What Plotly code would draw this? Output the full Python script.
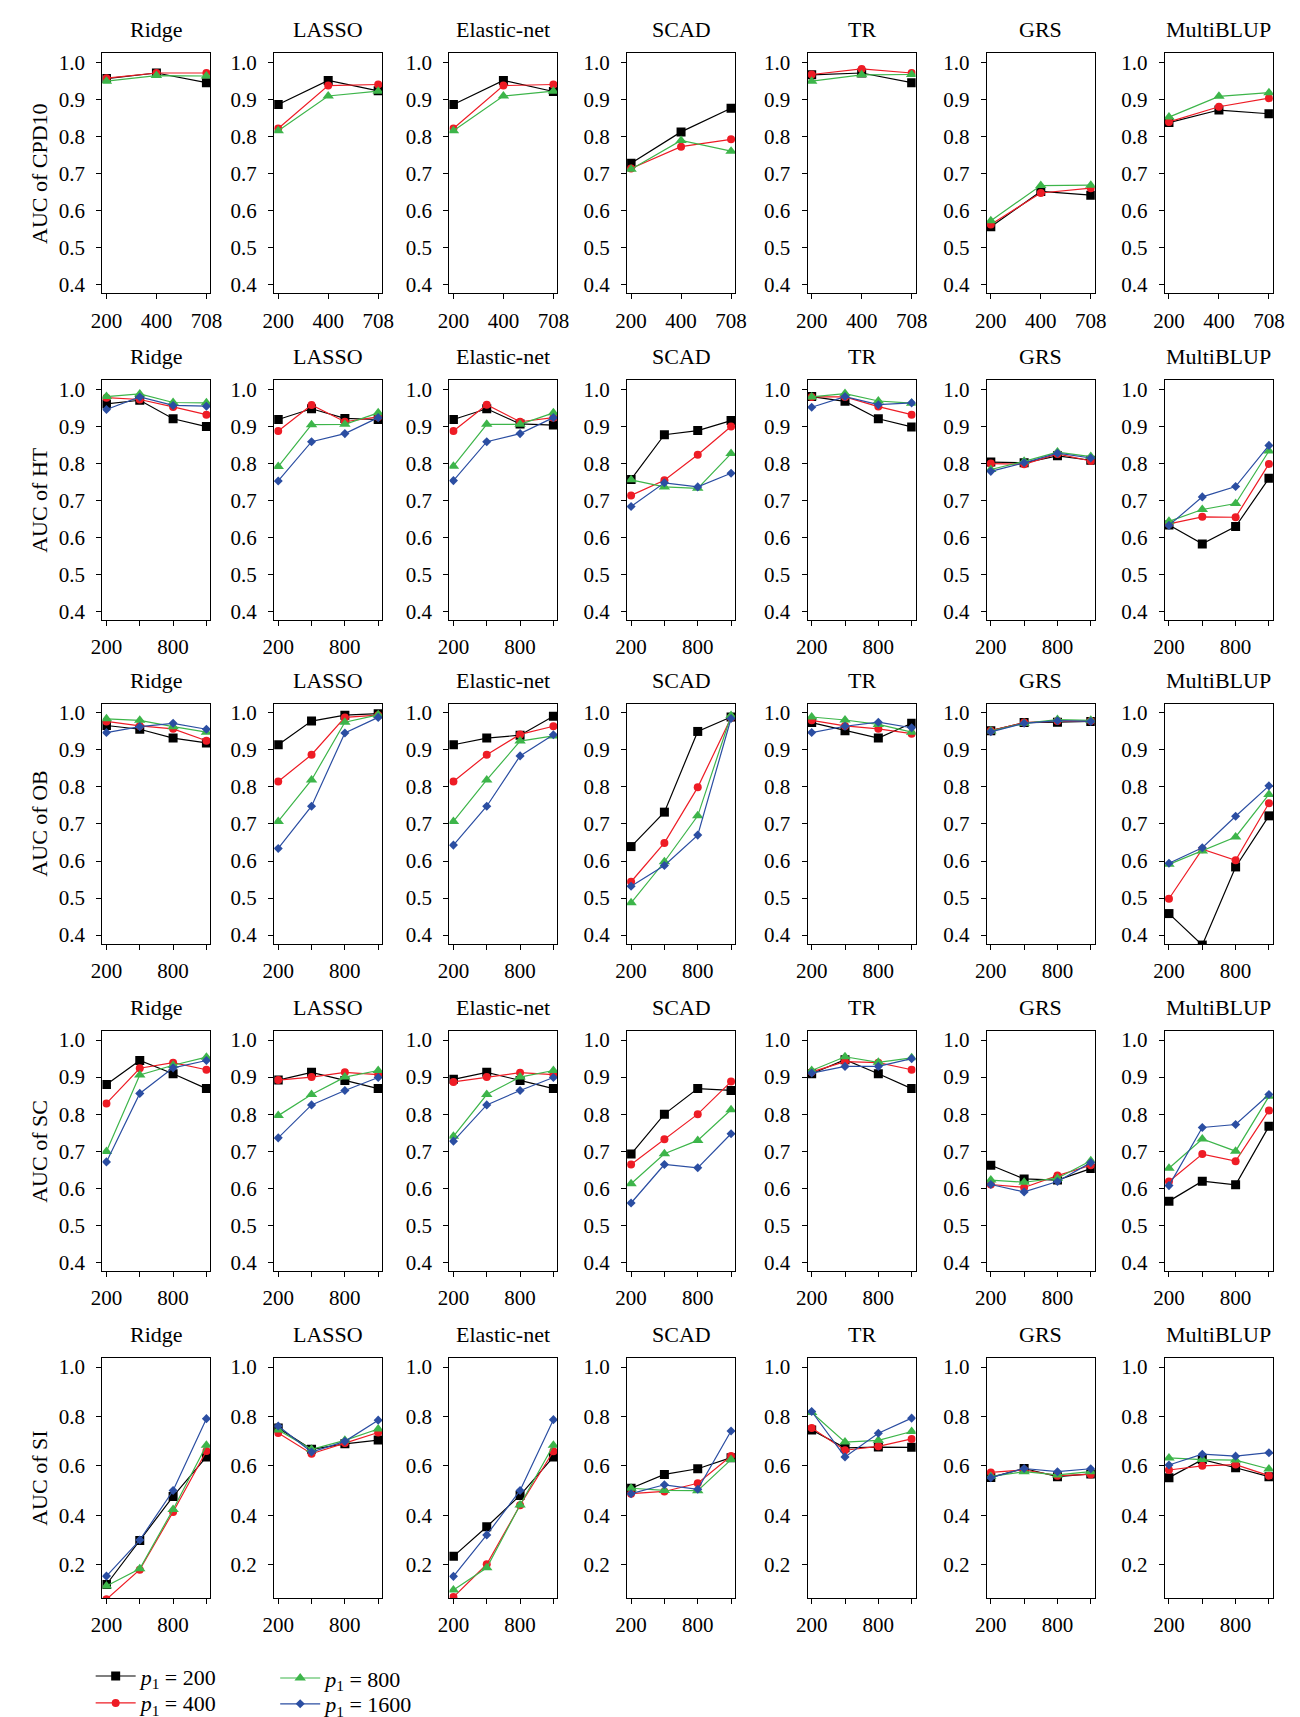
import plotly.graph_objects as go

# ---------------- data ----------------
methods = ["Ridge", "LASSO", "Elastic-net", "SCAD", "TR", "GRS", "MultiBLUP"]
traits = ["CPD10", "HT", "OB", "SC", "SI"]
x_ticks_row1 = ["200", "400", "708"]
x_ticks_rest = ["200", "", "800", ""]
series_labels = ["<i>p</i><sub>1</sub> = 200", "<i>p</i><sub>1</sub> = 400",
                 "<i>p</i><sub>1</sub> = 800", "<i>p</i><sub>1</sub> = 1600"]

# Each list: one list of AUC values per method (Ridge ... MultiBLUP)
CPD10_p200 = [[0.956, 0.971, 0.945], [0.886, 0.951, 0.923], [0.886, 0.951, 0.921],
              [0.727, 0.812, 0.876], [0.966, 0.971, 0.945], [0.556, 0.651, 0.641],
              [0.837, 0.871, 0.861]]
CPD10_p400 = [[0.957, 0.971, 0.971], [0.821, 0.937, 0.940], [0.821, 0.937, 0.940],
              [0.713, 0.772, 0.792], [0.967, 0.982, 0.971], [0.562, 0.647, 0.660],
              [0.839, 0.880, 0.903]]
CPD10_p800 = [[0.949, 0.964, 0.963], [0.815, 0.909, 0.922], [0.815, 0.909, 0.922],
              [0.711, 0.789, 0.760], [0.949, 0.966, 0.967], [0.572, 0.667, 0.668],
              [0.852, 0.908, 0.918]]

HT_p200 = [[0.960, 0.970, 0.920, 0.899], [0.918, 0.947, 0.921, 0.918], [0.918, 0.947, 0.906, 0.903],
           [0.756, 0.877, 0.888, 0.915], [0.980, 0.967, 0.920, 0.898], [0.803, 0.801, 0.820, 0.808],
           [0.633, 0.582, 0.629, 0.759]]
HT_p400 = [[0.977, 0.972, 0.952, 0.931], [0.887, 0.957, 0.912, 0.925], [0.887, 0.958, 0.912, 0.923],
           [0.713, 0.754, 0.823, 0.899], [0.979, 0.979, 0.953, 0.931], [0.799, 0.797, 0.825, 0.806],
           [0.636, 0.655, 0.654, 0.798]]
HT_p800 = [[0.980, 0.987, 0.964, 0.963], [0.791, 0.904, 0.905, 0.936], [0.792, 0.905, 0.905, 0.936],
           [0.755, 0.736, 0.732, 0.826], [0.979, 0.988, 0.968, 0.962], [0.783, 0.805, 0.830, 0.818],
           [0.643, 0.675, 0.691, 0.833]]
HT_p1600 = [[0.945, 0.979, 0.956, 0.954], [0.752, 0.858, 0.880, 0.923], [0.753, 0.858, 0.880, 0.923],
            [0.683, 0.747, 0.736, 0.773], [0.951, 0.980, 0.958, 0.963], [0.778, 0.801, 0.827, 0.814],
            [0.632, 0.709, 0.737, 0.848]]

OB_p200 = [[0.966, 0.956, 0.932, 0.919], [0.914, 0.978, 0.994, 0.998], [0.914, 0.932, 0.940, 0.991],
           [0.639, 0.732, 0.950, 0.989], [0.974, 0.952, 0.932, 0.972], [0.952, 0.974, 0.975, 0.977],
           [0.458, 0.373, 0.584, 0.722]]
OB_p400 = [[0.977, 0.965, 0.957, 0.925], [0.815, 0.887, 0.988, 0.994], [0.815, 0.887, 0.942, 0.964],
           [0.544, 0.649, 0.799, 0.987], [0.980, 0.965, 0.957, 0.944], [0.952, 0.974, 0.978, 0.978],
           [0.498, 0.632, 0.602, 0.756]]
OB_p800 = [[0.984, 0.980, 0.963, 0.948], [0.707, 0.819, 0.975, 0.995], [0.707, 0.819, 0.924, 0.938],
           [0.487, 0.598, 0.722, 0.993], [0.989, 0.981, 0.969, 0.948], [0.951, 0.972, 0.982, 0.980],
           [0.591, 0.627, 0.665, 0.780]]
OB_p1600 = [[0.947, 0.963, 0.972, 0.956], [0.634, 0.748, 0.946, 0.988], [0.643, 0.748, 0.884, 0.941],
            [0.532, 0.588, 0.670, 0.985], [0.947, 0.964, 0.975, 0.960], [0.949, 0.972, 0.979, 0.977],
            [0.594, 0.636, 0.721, 0.803]]

SC_p200 = [[0.880, 0.945, 0.909, 0.869], [0.892, 0.913, 0.891, 0.869], [0.894, 0.913, 0.891, 0.869],
           [0.692, 0.800, 0.869, 0.864], [0.909, 0.947, 0.909, 0.869], [0.662, 0.625, 0.622, 0.653],
           [0.565, 0.619, 0.609, 0.767]]
SC_p400 = [[0.829, 0.924, 0.939, 0.920], [0.892, 0.900, 0.913, 0.907], [0.887, 0.900, 0.912, 0.907],
           [0.664, 0.732, 0.800, 0.888], [0.914, 0.942, 0.939, 0.920], [0.610, 0.602, 0.634, 0.662],
           [0.618, 0.692, 0.673, 0.810]]
SC_p800 = [[0.699, 0.906, 0.932, 0.954], [0.796, 0.853, 0.900, 0.918], [0.740, 0.853, 0.900, 0.918],
           [0.612, 0.693, 0.729, 0.812], [0.918, 0.955, 0.940, 0.952], [0.622, 0.616, 0.627, 0.674],
           [0.654, 0.733, 0.700, 0.848]]
SC_p1600 = [[0.671, 0.856, 0.925, 0.945], [0.736, 0.825, 0.864, 0.899], [0.727, 0.825, 0.864, 0.899],
            [0.560, 0.664, 0.655, 0.747], [0.911, 0.929, 0.929, 0.950], [0.610, 0.590, 0.618, 0.669],
            [0.607, 0.764, 0.772, 0.853]]

SI_p200 = [[0.119, 0.297, 0.476, 0.636], [0.753, 0.667, 0.689, 0.704], [0.233, 0.353, 0.480, 0.636],
           [0.509, 0.565, 0.588, 0.633], [0.745, 0.673, 0.676, 0.675], [0.553, 0.589, 0.556, 0.567],
           [0.552, 0.625, 0.592, 0.556]]
SI_p400 = [[0.059, 0.179, 0.413, 0.660], [0.733, 0.649, 0.692, 0.735], [0.068, 0.201, 0.440, 0.659],
           [0.487, 0.496, 0.529, 0.640], [0.753, 0.663, 0.679, 0.709], [0.573, 0.583, 0.560, 0.565],
           [0.583, 0.600, 0.605, 0.560]]
SI_p800 = [[0.113, 0.183, 0.423, 0.683], [0.745, 0.667, 0.703, 0.749], [0.097, 0.187, 0.441, 0.683],
           [0.509, 0.500, 0.499, 0.625], [0.816, 0.696, 0.703, 0.739], [0.557, 0.576, 0.563, 0.576],
           [0.632, 0.625, 0.623, 0.587]]
SI_p1600 = [[0.153, 0.299, 0.500, 0.791], [0.761, 0.656, 0.699, 0.785], [0.152, 0.320, 0.500, 0.787],
            [0.487, 0.523, 0.505, 0.741], [0.820, 0.636, 0.732, 0.793], [0.552, 0.589, 0.576, 0.588],
            [0.603, 0.647, 0.639, 0.653]]

trait_data = [
    [CPD10_p200, CPD10_p400, CPD10_p800],
    [HT_p200, HT_p400, HT_p800, HT_p1600],
    [OB_p200, OB_p400, OB_p800, OB_p1600],
    [SC_p200, SC_p400, SC_p800, SC_p1600],
    [SI_p200, SI_p400, SI_p800, SI_p1600],
]
y_ticks_main = [0.4, 0.5, 0.6, 0.7, 0.8, 0.9, 1.0]
y_ticks_si = [0.2, 0.4, 0.6, 0.8, 1.0]

# ---------------- styles ----------------
W, H = 1300, 1717
FONT = "Liberation Serif"
colors = ["#000000", "#EE1C25", "#3DB54A", "#2B4EA2"]
symbols = ["square", "circle", "triangle-up", "diamond"]
msizes = [9, 8, 10, 7]

col_left = [84, 259, 437.5, 618.5, 802.5, 985, 1166.5]
box_w = 110
row_top = [42.6, 371, 696.3, 1025, 1353.5]
box_h = 241

fig = go.Figure()
layout = {}
annotations = []

for r in range(5):
    for c in range(7):
        k = r * 7 + c + 1
        xa = "x" if k == 1 else f"x{k}"
        ya = "y" if k == 1 else f"y{k}"
        series = trait_data[r]
        for s, arr in enumerate(series):
            yvals = arr[c]
            xs = list(range(1, len(yvals) + 1))
            fig.add_trace(go.Scatter(
                x=xs, y=yvals, xaxis=xa, yaxis=ya, mode="lines+markers",
                line=dict(color=colors[s], width=1.2),
                marker=dict(symbol=symbols[s], size=msizes[s], color=colors[s], line=dict(width=0)),
                showlegend=False, hoverinfo="skip"))
        ticks = x_ticks_row1 if r == 0 else x_ticks_rest
        n = len(ticks)
        pad = 0.04 * (n - 1)
        major_vals = [i + 1 for i, t in enumerate(ticks) if t]
        major_text = [t for t in ticks if t]
        minor_vals = [i + 1 for i, t in enumerate(ticks) if not t]
        x0 = col_left[c] / W
        x1 = (col_left[c] + box_w) / W
        y1 = 1 - row_top[r] / H
        y0 = 1 - (row_top[r] + box_h) / H
        common = dict(showgrid=False, zeroline=False, showline=True, mirror=True,
                      linecolor="black", linewidth=1.3, ticks="outside", ticklen=5,
                      tickwidth=1, tickcolor="black",
                      tickfont=dict(family=FONT, size=21, color="black"))
        xdef = dict(domain=[x0, x1], anchor=ya, range=[1 - pad, n + pad],
                    tickmode="array", tickvals=major_vals, ticktext=major_text,
                    ticklabelstandoff=3, **common)
        if minor_vals:
            xdef["minor"] = dict(tickmode="array", tickvals=minor_vals, ticks="outside",
                                 ticklen=5, tickwidth=1, tickcolor="black", showgrid=False)
        layout["xaxis" if k == 1 else f"xaxis{k}"] = xdef
        if r < 4:
            yt = y_ticks_main
            yr = [0.376, 1.024]
        else:
            yt = y_ticks_si
            yr = [0.064, 1.036]
        layout["yaxis" if k == 1 else f"yaxis{k}"] = dict(
            domain=[y0, y1], anchor=xa, range=yr, tickmode="array",
            tickvals=yt, ticktext=[f"{v:.1f}" for v in yt], ticklabelstandoff=7, **common)
        annotations.append(dict(
            text=methods[c], x=(x0 + x1) / 2, y=1 - (row_top[r] - 24) / H,
            xref="paper", yref="paper", showarrow=False, xanchor="center", yanchor="middle",
            font=dict(family=FONT, size=22, color="black")))
    annotations.append(dict(
        text=f"AUC of {traits[r]}", x=20 / W, y=1 - (row_top[r] + box_h / 2) / H,
        xref="paper", yref="paper", showarrow=False, textangle=-90,
        xanchor="center", yanchor="middle",
        font=dict(family=FONT, size=22, color="black")))

# legend entries: one small legend box per entry (two columns, two rows)
legend_pos = [(72, 1673), (72, 1700), (260, 1675), (260, 1701)]
for s in range(4):
    lname = "legend" if s == 0 else f"legend{s + 1}"
    fig.add_trace(go.Scatter(
        x=[None], y=[None], mode="lines+markers", name=series_labels[s],
        line=dict(color=colors[s], width=1.2),
        marker=dict(symbol=symbols[s], size=msizes[s], color=colors[s]),
        legend=lname, showlegend=True))
    lx, ly = legend_pos[s]
    layout[lname] = dict(orientation="v", xanchor="left", yanchor="middle",
                         x=lx / W, y=1 - ly / H,
                         font=dict(family=FONT, size=22, color="black"), itemwidth=40,
                         bgcolor="rgba(0,0,0,0)", borderwidth=0)

fig.update_layout(width=W, height=H, margin=dict(l=0, r=0, t=0, b=0),
                  plot_bgcolor="white", paper_bgcolor="white",
                  annotations=annotations, **layout)
fig.write_html("out.html")
